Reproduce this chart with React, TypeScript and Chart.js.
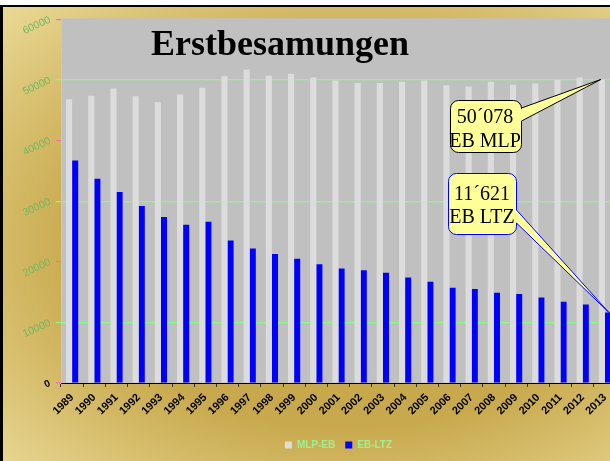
import React, { useEffect, useRef } from "react";
import { Chart, registerables } from "chart.js";

Chart.register(...registerables);

const years = [
  "1989", "1990", "1991", "1992", "1993", "1994", "1995", "1996", "1997",
  "1998", "1999", "2000", "2001", "2002", "2003", "2004", "2005", "2006",
  "2007", "2008", "2009", "2010", "2011", "2012", "2013",
];

const mlpValues = [
  46800, 47400, 48600, 47300, 46300, 47600, 48700, 50600, 51700, 50700,
  51000, 50400, 49900, 49500, 49500, 49700, 49900, 49100, 48900, 49700,
  49200, 49400, 50000, 50400, 50078,
];

const ltzValues = [
  36700, 33700, 31500, 29200, 27400, 26100, 26600, 23500, 22200, 21300,
  20500, 19600, 18900, 18600, 18200, 17400, 16700, 15700, 15500, 14900,
  14700, 14100, 13400, 12950, 11621,
];

const seriesNames = ["MLP-EB", "EB-LTZ"];
const calloutSuffix = ["EB MLP", "EB LTZ"];
const titleText = "Erstbesamungen";

const fmt = (v: number) =>
  Math.floor(v / 1000) + "\u00B4" + String(v % 1000).padStart(3, "0");

const SERIF = '"Liberation Serif", "Times New Roman", serif';
const SANS = '"Liberation Sans", Arial, sans-serif';

function calloutPath(
  ctx: CanvasRenderingContext2D,
  x: number, y: number, w: number, h: number, r: number,
  py1: number, py2: number, tx: number, ty: number
) {
  ctx.beginPath();
  ctx.moveTo(x + r, y);
  ctx.lineTo(x + w - r, y);
  ctx.arcTo(x + w, y, x + w, y + r, r);
  ctx.lineTo(x + w, py1);
  ctx.lineTo(tx, ty);
  ctx.lineTo(x + w, py2);
  ctx.lineTo(x + w, y + h - r);
  ctx.arcTo(x + w, y + h, x + w - r, y + h, r);
  ctx.lineTo(x + r, y + h);
  ctx.arcTo(x, y + h, x, y + h - r, r);
  ctx.lineTo(x, y + r);
  ctx.arcTo(x, y, x + r, y, r);
  ctx.closePath();
}

const plotBg = {
  id: "plotBg",
  beforeDraw(chart: any) {
    const { ctx, chartArea } = chart;
    ctx.save();
    ctx.fillStyle = "#c0c0c0";
    ctx.fillRect(
      chartArea.left,
      chartArea.top - 1,
      chartArea.right - chartArea.left + 10,
      chartArea.bottom - chartArea.top + 1
    );
    ctx.restore();
  },
};

const overlay = {
  id: "overlay",
  afterDraw(chart: any) {
    const { ctx } = chart;
    const last = years.length - 1;
    const g = chart.getDatasetMeta(0).data[last];
    const b = chart.getDatasetMeta(1).data[last];
    ctx.save();
    // title
    ctx.fillStyle = "#000";
    ctx.font = "bold 36px " + SERIF;
    ctx.textAlign = "center";
    ctx.textBaseline = "alphabetic";
    ctx.fillText(titleText, 277, 48);

    // callout MLP
    ctx.lineWidth = 1;
    calloutPath(ctx, 447.5, 93.5, 71, 52, 8, 101, 114, g.x - 1, g.y);
    ctx.fillStyle = "#ffff99";
    ctx.fill();
    ctx.strokeStyle = "#000";
    ctx.stroke();
    ctx.fillStyle = "#000";
    ctx.font = "20px " + SERIF;
    ctx.fillText(fmt(mlpValues[last]), 482, 116);
    ctx.fillText(calloutSuffix[0], 482, 140);

    // callout LTZ
    calloutPath(ctx, 445.5, 166.5, 68, 61, 8, 203, 216, b.x + 1, b.y);
    ctx.fillStyle = "#ffff99";
    ctx.fill();
    ctx.strokeStyle = "#0000ff";
    ctx.stroke();
    ctx.fillStyle = "#000";
    ctx.fillText(fmt(ltzValues[last]), 479, 193);
    ctx.fillText(calloutSuffix[1], 479, 216);
    ctx.restore();
  },
};

export default function App() {
  const canvasRef = useRef<HTMLCanvasElement | null>(null);

  useEffect(() => {
    const canvas = canvasRef.current;
    if (!canvas) return;
    const chart = new Chart(canvas, {
      type: "bar",
      data: {
        labels: years,
        datasets: [
          {
            label: seriesNames[0],
            data: mlpValues,
            backgroundColor: "#dcdcdc",
            borderWidth: 0,
            categoryPercentage: 0.55,
            barPercentage: 1,
          },
          {
            label: seriesNames[1],
            data: ltzValues,
            backgroundColor: "#0000ff",
            borderWidth: 0,
            categoryPercentage: 0.55,
            barPercentage: 1,
          },
        ],
      },
      options: {
        responsive: false,
        animation: false,
        devicePixelRatio: 1,
        layout: { padding: { left: 0, right: 4, top: 10, bottom: 1 } },
        plugins: {
          title: { display: false },
          tooltip: { enabled: false },
          legend: {
            display: true,
            position: "bottom",
            fullSize: false,
            labels: {
              boxWidth: 7,
              boxHeight: 7,
              padding: 10,
              color: "#a0ee90",
              font: { size: 10, weight: "bold", family: SANS },
            },
          },
        },
        scales: {
          x: {
            afterFit(scale: any) {
              scale.height = 47;
            },
            grid: {
              display: true,
              drawOnChartArea: false,
              drawTicks: true,
              tickLength: 4,
              tickColor: "#333",
            },
            border: { display: true, color: "#000", width: 1 },
            ticks: {
              autoSkip: false,
              minRotation: 45,
              maxRotation: 45,
              padding: 4,
              color: "#000",
              font: { size: 11, weight: "bold", family: SANS },
            },
          },
          y: {
            min: 0,
            max: 60000,
            afterFit(scale: any) {
              scale.width = 58;
            },
            grid: {
              color: (c: any) =>
                c.tick && Math.round(c.tick.value) % 20000 === 10000 ? "#80ff80" : "rgba(0,0,0,0)",
              tickColor: (c: any) =>
                c.tick && Math.round(c.tick.value) % 20000 === 10000 ? "#80ff80" : "#ee7799",
              lineWidth: 1.2,
              tickLength: 5,
              drawTicks: true,
            },
            border: { display: true, color: "#90f090", width: 1 },
            ticks: {
              stepSize: 10000,
              minRotation: 25,
              maxRotation: 25,
              padding: 6,
              callback: (v: any) => String(v),
              color: (c: any) => (c.tick && c.tick.value === 0 ? "#000" : "#72b860"),
              font: (c: any) =>
                c.tick && c.tick.value === 0
                  ? { size: 10, weight: "bold", family: SANS }
                  : { size: 10.5, family: SANS },
            },
          },
        },
      },
      plugins: [plotBg, overlay],
    } as any);
    return () => chart.destroy();
  }, []);

  return (
    <div
      style={{
        position: "fixed",
        left: 0,
        top: 0,
        width: 610,
        height: 461,
        overflow: "hidden",
        background: "#fff",
      }}
    >
      <div
        style={{
          position: "absolute",
          left: 0,
          top: 5,
          width: 625,
          height: 456,
          borderLeft: "3px solid #000",
          borderTop: "2px solid #000",
          background:
            "radial-gradient(ellipse farthest-corner at 55% 52%, #c4a445 0%, #c8a94d 55%, #ead996 100%)",
        }}
      >
        <canvas
          ref={canvasRef}
          width={617}
          height={454}
          style={{ display: "block", width: 617, height: 454 }}
        />
      </div>
    </div>
  );
}
